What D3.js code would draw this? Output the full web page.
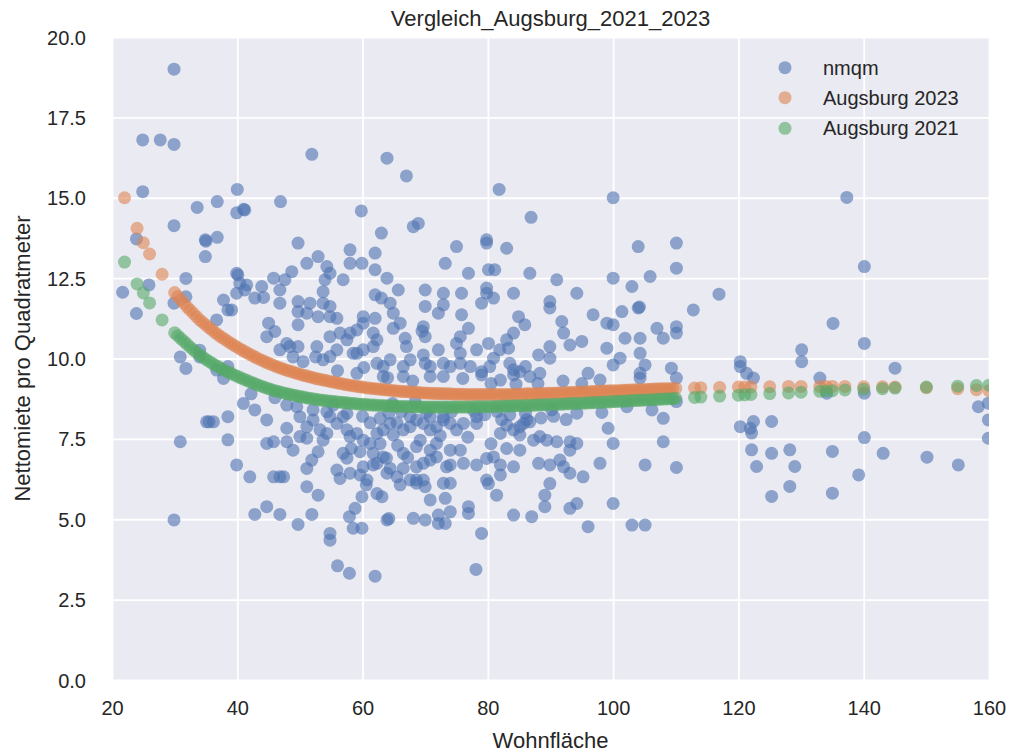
<!DOCTYPE html>
<html><head><meta charset="utf-8">
<script src="https://cdn.jsdelivr.net/npm/d3@7"></script>
<style>
body{margin:0;background:#ffffff;}
svg{display:block;font-family:"Liberation Sans",Arial,sans-serif;}
</style>
</head><body>
<svg id="chart" width="1010" height="753"></svg>
<script>
const chartTitle = "Vergleich_Augsburg_2021_2023";
const xLabel = "Wohnfläche";
const yLabel = "Nettomiete pro Quadratmeter";
const xTicks = [20, 40, 60, 80, 100, 120, 140, 160];
const yTicks = [0, 2.5, 5, 7.5, 10, 12.5, 15, 17.5, 20];
const seriesNames = ["nmqm", "Augsburg 2023", "Augsburg 2021"];
const seriesColors = ["#4c72b0", "#dd8452", "#55a868"];

// observed rent per sqm: [Wohnfläche, nmqm]
const nmqm = [
[29.9,19.0],[24.9,16.8],[27.7,16.8],[29.9,16.66],[24.9,15.19],[33.6,14.7],[36.8,14.88],[29.9,14.13],[34.9,13.69],[35.0,13.65],[36.8,13.77],[34.9,13.17],[23.9,13.72],[21.7,12.06],[25.9,12.29],[23.9,11.4],[31.8,12.49],[29.9,11.72],[31.8,11.92],[37.8,11.82],[38.5,11.51],[36.7,11.2],[30.9,10.05],[31.8,9.69],[34,10.26],[34,10.05],[36.7,9.64],[37.8,9.38],[38.5,9.75],[35.1,8.03],[35.5,8.03],[36.2,8.03],[38.5,8.19],[38.5,7.47],[30.9,7.41],[29.9,4.98],
[40,15.26],[39.9,14.53],[41,14.64],[41.2,14.62],[46.9,14.88],[51.9,16.35],[63.9,16.23],[59.8,14.59],[67,15.68],[68.9,14.2],[68.1,14.1],[63,13.9],[81.8,15.26],[86.9,14.39],[100,15.0],[79.8,13.69],
[49.7,13.59],[58,13.38],[62,13.28],[75,13.48],[73.2,12.96],[76.9,12.65],[51.1,12.96],[52.9,13.17],[54.3,12.86],[54.8,12.65],[54,12.45],[56.9,12.45],[58,12.96],[59.9,12.96],[62,12.76],[63.9,12.5],[65.7,12.13],[70,12.13],[72.9,12.03],[75.8,12.03],
[39.9,12.65],[40.1,12.6],[40.4,12.34],[39.9,12.03],[41.2,12.13],[43.9,12.24],[42.8,11.88],[45.8,12.5],[46.8,12.13],[48.7,12.7],[47.6,12.45],[46.8,11.72],[49.7,11.77],[51.6,11.72],[53.7,12.08],[53.7,11.72],[54.8,11.62],[49.7,11.46],[51.1,11.41],[52.9,11.3],[54.8,11.3],[55.9,11.25],[49.7,11.05],[45,11.1],[44.7,10.68],[46,10.84],[39.1,11.51],
[62,11.98],[63,11.88],[64.9,11.41],[64.9,10.94],[66.8,10.63],[67,10.37],[69.7,10.99],[70,10.68],[69.7,10.11],[70,9.85],[72.1,10.27],[72.9,11.67],[72.1,11.41],[75.8,11.36],[76.9,10.94],[75.6,10.68],[75,10.47],[75.6,10.16],[77.2,9.75],[60.1,11.3],[60.1,11.1],[62,11.25],[61.7,10.79],[62.3,10.58],[60.1,10.27],[61.7,10.37],[59.1,10.89],[58,10.79],[57.5,10.58],[54.8,10.68],[56.4,10.79],[54.8,10.06],[55.9,10.27],[59.1,10.16],[53.7,9.96],[48.4,10.37],[46.8,10.27],[47.9,10.47],[49.7,10.37],[52.7,10.37],
[58.5,10.16],[62.3,9.85],[63.3,9.75],[64.4,9.96],[66.5,9.75],[67.6,9.96],[70.8,9.75],[72.9,9.85],[74,9.75],[75.6,9.85],[59.1,9.54],[63.3,9.44],[66.5,9.44],[70.8,9.44],[72.9,9.44],
[48.9,10.05],[64.4,11.72],[41.5,12.29],[44.2,11.9],[70,11.62],[66,11.1],[69.5,10.85],
[40.97,8.6],[42.8,8.4],[44.7,8.09],[39.9,6.69],[42,6.32],[44.7,7.36],[45.8,7.41],[47.9,7.83],[47.9,7.41],[48.9,7.15],[45.8,6.32],[46.8,6.32],[47.4,6.32],[51.1,6.58],[51.9,6.84],[52.9,7.1],[50,8.19],[51.1,7.88],[51.1,7.52],[52.1,8.09],[53.2,7.78],[54.3,7.67],[54.8,8.19],[55.9,7.98],[56.9,8.19],[57.5,7.78],[58,7.57],[59.1,7.67],[53.7,7.46],[47.9,8.55],[49.5,8.5],[52.1,8.4],[54.3,8.35],[57.5,8.29],[55.3,8.55],
[56.9,7.05],[57.5,6.9],[55.9,6.53],[56.4,6.27],[58,6.43],[59.6,6.38],[60.7,6.22],[63.9,6.43],[65.5,6.32],
[60.1,6.63],[61.7,6.69],[63.3,6.94],[64.4,6.58],[66.5,6.58],[67.6,6.22],[68.6,6.22],[69.7,6.22],
[60.1,7.46],[61.2,7.36],[62.3,7.67],[63.3,7.78],[64.4,7.98],[64.9,7.62],[66.5,7.78],[67.6,7.88],[68.6,8.09],[69.7,7.98],[70.8,7.78],[71.8,7.88],[72.9,8.09],[74,7.98],[75,7.78],[76.1,7.98],[78.2,8.19],[68.6,7.26],[69.2,7.46],[70.8,7.15],[71.8,7.36],[74,7.15],[75.6,7.15],[76.1,6.74],
[61.7,7.05],[62.3,6.74],[63.8,6.9],[66.5,7.05],[68.6,6.63],[69.7,6.74],[70.8,6.84],[71.8,6.94],[73.4,6.63],[74,6.69],
[50,7.57],[61.2,8.0],[62.8,8.14],[65.5,8.0],[67.6,8.19],[70.8,8.19],[72.9,8.19],
[42.8,5.15],[44.7,5.39],[46.8,5.15],[49.7,4.84],[51.9,5.15],[51.1,6.01],[52.9,5.75],[54.8,4.56],[54.8,4.35],[56,3.55],[57.9,3.32],[62,3.23],[57.9,5.08],[58.8,5.34],[59.9,5.7],[58.5,4.72],[59.9,4.72],[60.6,6.07],[62.3,5.8],[63.1,5.7],[63.9,4.98],[64.2,5.02],[68.1,5.03],[70,4.98],[70.8,5.6],[73.2,5.65],[74,5.23],[72.1,5.13],[73.2,4.87],[72.1,4.87],[76.9,5.39],[76.9,5.18],[79,4.56],[78.1,3.44],[68.6,6.12],[70,6.01],[72.9,6.12],[74,6.12],[66,6.07],[81.4,5.75],
[79.8,13.59],[83,13.43],[104,13.48],[110.1,13.59],[110.1,12.81],[105.9,12.55],[103,12.24],[100,12.5],[91,12.45],[86.7,12.65],[80.1,12.76],[81.1,12.76],
[79.8,12.19],[79.8,12.03],[79,11.72],[80.9,11.88],[84.1,12.03],[89.9,11.77],[89.9,11.57],[94.2,12.03],[96.8,11.36],[99,11.1],[100,11.05],[101.4,11.46],[104,11.57],[104.2,11.6],[107,10.94],[108,10.63],[110.1,10.99],[110.1,10.79],[112.8,11.51],[116.9,12.0],
[78.2,10.27],[80.1,10.47],[80.9,10.01],[83,10.58],[83.3,10.32],[84.1,10.79],[84.9,11.3],[85.9,11.05],[88.1,10.11],[89.9,10.37],[89.9,10.01],[91.8,11.15],[92.1,10.79],[93.1,10.42],[95,10.53],[99,10.32],[100,9.8],[101.1,10.01],[101.9,10.63],[104.3,10.63],[104.3,10.16],[105.1,9.8],[104.3,9.54],[104.3,9.39],[109.3,9.7],[110.1,9.39],[79,9.59],[79,9.49],[83.5,9.85],[84.1,9.65],[84.1,9.49],[85.1,9.59],[88.3,9.54],[96,9.54],[97.9,9.33],
[80.3,9.75],[81.9,10.27],[86.7,9.44],[82,9.33],[86,9.75],
[78.2,7.98],[82,7.67],[83,7.93],[84.1,7.78],[85.1,7.62],[85.1,7.88],[85.7,7.98],[86.7,8.03],[87.3,7.46],[88.3,7.57],[89.4,7.46],[91,7.41],[93.1,7.41],[94.2,7.36],[93.1,7.15],[85.1,7.15],[99.2,7.83],[100,7.36],[108,8.14],[108,7.41],
[78.2,6.69],[79.8,6.89],[80.9,6.94],[82,6.69],[84.1,6.63],[88.1,6.74],[89.9,6.69],[91.5,6.84],[92.1,6.63],[93.1,6.43],[95.2,6.32],[97.9,6.74],[105.1,6.69],[110.1,6.61],
[79.8,6.22],[80.1,6.11],[82,6.38],[89.9,6.11],
[79.5,8.25],[81.5,8.35],[83.5,8.25],[86,8.3],[88.5,8.15],[90.5,8.2],[92.5,8.1],[80.5,7.35],[83,7.2],
[89.1,5.75],[89.1,5.39],[93.1,5.34],[94.2,5.49],[100,5.49],[84.1,5.13],[87,5.08],[96,4.77],[103,4.82],[105.1,4.82],
[137.3,15.01],[140.1,12.86],[135.1,11.09],[140.1,10.47],[120.3,9.9],[120.3,9.75],[121.3,9.54],[122.4,9.39],[130.1,10.27],[130.1,9.9],[133,9.39],[145,9.7],[110.1,8.66],
[134.1,8.92],[140.1,8.92],[158.3,8.5],[159.9,8.61],[159.9,8.09],[159.9,7.52],
[120.3,7.88],[121.9,7.83],[122.1,7.68],[122.4,8.04],[125.3,8.04],[122.1,7.16],[125.3,7.05],[128.2,7.16],[122.9,6.64],[129,6.64],[125.3,5.71],[128.2,6.02],[135,7.11],[135,5.81],[139.2,6.38],[140.1,7.54],[143.1,7.05],[150.1,6.93],[155.1,6.69],
[50.5,9.9],[52.5,10.05],[56,9.62],[60.2,9.72],[64,9.4],[68,9.3],[76,9.38],[80.5,9.22],[84.5,9.2],[88,9.22],[92,9.3],[95,9.22],
[42.2,8.9],[46,8.78],[60,8.2],[64.2,8.3],[66.2,8.35],[70.2,8.32],[74.2,8.35],[77.8,8.36],[82.2,8.1],[86.2,8.1],[90.2,8.4],[94.2,8.3],[98.2,8.32],[102.2,8.5],[106.2,8.4],
[58.2,7.2],[59.6,7.1],[62.8,7.35],[65.6,7.3],[67.2,6.92],[72.4,7.6],[76.8,7.55],[64.8,8.6],[68.4,8.65]
];

// Augsburg 2023 reference values: [Wohnfläche, value]
const augsburg2023 = [
[22,15.0],[24,14.05],[25,13.6],[26,13.25],[28,12.62],[30,12.05],[30.5,11.93],[31,11.82],[31.5,11.71],[32,11.6],[32.5,11.5],[33,11.4],[33.5,11.3],[34,11.2],[34.5,11.12],[35,11.04],[35.5,10.96],[36,10.88],[36.5,10.8],[37,10.73],[37.5,10.66],[38,10.6],[38.5,10.53],[39,10.47],[39.5,10.41],[40,10.35],[40.5,10.29],[41,10.24],[41.5,10.18],[42,10.13],[42.5,10.08],[43,10.03],[43.5,9.98],[44,9.94],[44.5,9.89],[45,9.85],[45.5,9.81],[46,9.77],[46.5,9.73],[47,9.7],[47.5,9.66],[48,9.63],[48.5,9.6],[49,9.57],[49.5,9.54],[50,9.51],[50.5,9.48],[51,9.46],[51.5,9.43],[52,9.41],[52.5,9.38],[53,9.36],[53.5,9.34],[54,9.32],[54.5,9.3],[55,9.28],[55.5,9.26],[56,9.24],[56.5,9.22],[57,9.2],[57.5,9.18],[58,9.17],[58.5,9.15],[59,9.14],[59.5,9.12],[60,9.11],[60.5,9.09],[61,9.08],[61.5,9.07],[62,9.06],[62.5,9.05],[63,9.04],[63.5,9.03],[64,9.02],[64.5,9.01],[65,9.0],[65.5,8.99],[66,8.98],[66.5,8.97],[67,8.97],[67.5,8.96],[68,8.95],[68.5,8.95],[69,8.94],[69.5,8.93],[70,8.93],[70.5,8.92],[71,8.92],[71.5,8.91],[72,8.91],[72.5,8.91],[73,8.9],[73.5,8.9],[74,8.9],[74.5,8.89],[75,8.89],[75.5,8.89],[76,8.89],[76.5,8.88],[77,8.88],[77.5,8.88],[78,8.88],[78.5,8.88],[79,8.88],[79.5,8.88],[80,8.88],[80.5,8.88],[81,8.88],[81.5,8.88],[82,8.88],[82.5,8.88],[83,8.88],[83.5,8.88],[84,8.89],[84.5,8.89],[85,8.89],[85.5,8.89],[86,8.9],[86.5,8.9],[87,8.9],[87.5,8.9],[88,8.91],[88.5,8.91],[89,8.91],[89.5,8.92],[90,8.92],[90.5,8.92],[91,8.93],[91.5,8.93],[92,8.93],[92.5,8.94],[93,8.94],[93.5,8.94],[94,8.95],[94.5,8.95],[95,8.96],[95.5,8.96],[96,8.96],[96.5,8.97],[97,8.97],[97.5,8.98],[98,8.98],[98.5,8.99],[99,8.99],[99.5,9.0],[100,9.0],[100.5,9.0],[101,9.0],[101.5,9.01],[102,9.01],[102.5,9.02],[103,9.02],[103.5,9.03],[104,9.03],[104.5,9.03],[105,9.03],[105.5,9.04],[106,9.04],[106.5,9.05],[107,9.05],[107.5,9.06],[108,9.06],[108.5,9.06],[109,9.06],[109.5,9.07],[110,9.07],[113,9.08],[114,9.09],[117,9.1],[120,9.11],[121,9.11],[122,9.12],[125,9.12],[128,9.13],[130,9.13],[133,9.13],[134,9.13],[135,9.13],[137,9.13],[140,9.12],[143,9.12],[145,9.11],[150,9.09],[155,9.06],[158,9.03],[160,9.0]
];

// Augsburg 2021 reference values: [Wohnfläche, value]
const augsburg2021 = [
[22,13.0],[24,12.32],[25,12.04],[26,11.73],[28,11.2],[30,10.8],[30.5,10.71],[31,10.62],[31.5,10.53],[32,10.44],[32.5,10.35],[33,10.27],[33.5,10.19],[34,10.11],[34.5,10.04],[35,9.97],[35.5,9.91],[36,9.85],[36.5,9.79],[37,9.74],[37.5,9.68],[38,9.63],[38.5,9.58],[39,9.54],[39.5,9.49],[40,9.45],[40.5,9.4],[41,9.36],[41.5,9.32],[42,9.28],[42.5,9.24],[43,9.2],[43.5,9.16],[44,9.13],[44.5,9.09],[45,9.06],[45.5,9.03],[46,9.0],[46.5,8.97],[47,8.95],[47.5,8.92],[48,8.9],[48.5,8.88],[49,8.86],[49.5,8.84],[50,8.82],[50.5,8.8],[51,8.78],[51.5,8.76],[52,8.75],[52.5,8.73],[53,8.72],[53.5,8.7],[54,8.69],[54.5,8.68],[55,8.67],[55.5,8.66],[56,8.65],[56.5,8.64],[57,8.63],[57.5,8.62],[58,8.61],[58.5,8.6],[59,8.59],[59.5,8.58],[60,8.58],[60.5,8.57],[61,8.56],[61.5,8.55],[62,8.55],[62.5,8.54],[63,8.54],[63.5,8.53],[64,8.53],[64.5,8.52],[65,8.52],[65.5,8.51],[66,8.51],[66.5,8.51],[67,8.51],[67.5,8.5],[68,8.5],[68.5,8.5],[69,8.5],[69.5,8.49],[70,8.49],[70.5,8.49],[71,8.49],[71.5,8.49],[72,8.49],[72.5,8.49],[73,8.49],[73.5,8.49],[74,8.49],[74.5,8.49],[75,8.49],[75.5,8.49],[76,8.49],[76.5,8.49],[77,8.49],[77.5,8.49],[78,8.5],[78.5,8.5],[79,8.5],[79.5,8.5],[80,8.5],[80.5,8.5],[81,8.51],[81.5,8.51],[82,8.51],[82.5,8.52],[83,8.52],[83.5,8.52],[84,8.52],[84.5,8.53],[85,8.53],[85.5,8.53],[86,8.54],[86.5,8.54],[87,8.54],[87.5,8.55],[88,8.55],[88.5,8.56],[89,8.56],[89.5,8.56],[90,8.57],[90.5,8.57],[91,8.58],[91.5,8.58],[92,8.58],[92.5,8.59],[93,8.59],[93.5,8.6],[94,8.6],[94.5,8.6],[95,8.61],[95.5,8.61],[96,8.62],[96.5,8.62],[97,8.63],[97.5,8.63],[98,8.64],[98.5,8.64],[99,8.65],[99.5,8.65],[100,8.66],[100.5,8.66],[101,8.67],[101.5,8.67],[102,8.68],[102.5,8.68],[103,8.69],[103.5,8.69],[104,8.7],[104.5,8.7],[105,8.71],[105.5,8.71],[106,8.72],[106.5,8.72],[107,8.73],[107.5,8.73],[108,8.74],[108.5,8.74],[109,8.75],[109.5,8.75],[110,8.76],[113,8.79],[114,8.8],[117,8.83],[120,8.86],[121,8.87],[122,8.88],[125,8.91],[128,8.93],[130,8.95],[133,8.98],[134,8.99],[135,9.0],[137,9.02],[140,9.04],[143,9.06],[145,9.08],[150,9.11],[155,9.14],[158,9.16],[160,9.17]
];

const W = 1010, H = 753;
const plot = {left: 112, right: 989, top: 37, bottom: 680};
const textColor = "#262626";
const svg = d3.select("#chart");

const x = d3.scaleLinear().domain([20, 160]).range([plot.left, plot.right]);
const y = d3.scaleLinear().domain([0, 20]).range([plot.bottom, plot.top]);

svg.append("rect").attr("width", W).attr("height", H).attr("fill", "#ffffff");
svg.append("rect")
  .attr("x", plot.left).attr("y", plot.top)
  .attr("width", plot.right - plot.left).attr("height", plot.bottom - plot.top)
  .attr("fill", "#eaeaf2");

svg.append("defs").append("clipPath").attr("id", "clip")
  .append("rect")
  .attr("x", plot.left).attr("y", plot.top)
  .attr("width", plot.right - plot.left).attr("height", plot.bottom - plot.top);

const gx = svg.append("g")
  .attr("transform", `translate(0,${plot.bottom})`)
  .call(d3.axisBottom(x).tickValues(xTicks).tickSize(-(plot.bottom - plot.top)).tickFormat(d3.format("d")).tickPadding(0));
gx.select(".domain").remove();
gx.selectAll(".tick line").attr("stroke", "#ffffff").attr("stroke-width", 1.8);
gx.selectAll(".tick text")
  .attr("y", 35).attr("dy", 0)
  .attr("fill", textColor).attr("font-size", 20)
  .attr("font-family", "Liberation Sans, Arial, sans-serif");

const gy = svg.append("g")
  .attr("transform", `translate(${plot.left},0)`)
  .call(d3.axisLeft(y).tickValues(yTicks).tickSize(-(plot.right - plot.left)).tickFormat(d3.format(".1f")).tickPadding(0));
gy.select(".domain").remove();
gy.selectAll(".tick line").attr("stroke", "#ffffff").attr("stroke-width", 1.8);
gy.selectAll(".tick text")
  .attr("x", -26).attr("dy", "0.35em")
  .attr("fill", textColor).attr("font-size", 20)
  .attr("font-family", "Liberation Sans, Arial, sans-serif");

const r = 6.5, alpha = 0.6;
const layer = svg.append("g").attr("clip-path", "url(#clip)");
[nmqm, augsburg2023, augsburg2021].forEach((data, i) => {
  layer.append("g").selectAll("circle").data(data).join("circle")
    .attr("cx", d => x(d[0])).attr("cy", d => y(d[1])).attr("r", r)
    .attr("fill", seriesColors[i]).attr("fill-opacity", alpha);
});

svg.append("text").attr("x", (plot.left + plot.right) / 2).attr("y", 26)
  .attr("text-anchor", "middle").attr("fill", textColor).attr("font-size", 22)
  .text(chartTitle);
svg.append("text").attr("x", (plot.left + plot.right) / 2).attr("y", 748)
  .attr("text-anchor", "middle").attr("fill", textColor).attr("font-size", 22)
  .text(xLabel);
svg.append("text")
  .attr("transform", `translate(22,${(plot.top + plot.bottom) / 2}) rotate(-90)`)
  .attr("text-anchor", "middle").attr("dy", "0.35em").attr("fill", textColor).attr("font-size", 22)
  .text(yLabel);

const legend = svg.append("g");
const legendY = [67.7, 97.7, 128.3];
seriesNames.forEach((name, i) => {
  legend.append("circle").attr("cx", 785).attr("cy", legendY[i]).attr("r", r)
    .attr("fill", seriesColors[i]).attr("fill-opacity", alpha);
  legend.append("text").attr("x", 823).attr("y", legendY[i]).attr("dy", "0.35em")
    .attr("fill", textColor).attr("font-size", 20).text(name);
});
</script>
</body></html>
